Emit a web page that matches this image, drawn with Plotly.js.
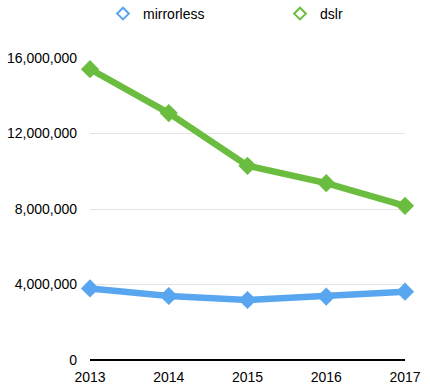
<!DOCTYPE html>
<html>
<head>
<meta charset="utf-8">
<script src="https://cdn.plot.ly/plotly-3.0.1.min.js"></script>
<style>html,body{margin:0;padding:0;background:#fff;}#chart{width:430px;height:391px;}</style>
</head>
<body>
<div id="chart"></div>
<script>
const years = [2013, 2014, 2015, 2016, 2017];
const mirrorless = [3790000, 3390000, 3180000, 3360000, 3620000];
const dslr = [15410000, 13080000, 10290000, 9370000, 8170000];
const yTicks = [0, 4000000, 8000000, 12000000, 16000000];
const yTickText = ["0", "4,000,000", "8,000,000", "12,000,000", "16,000,000"];

const blue = "#58a6ef";
const green = "#6abd3e";

const traces = [
  {x: years, y: mirrorless, mode: "lines+markers", name: "mirrorless", showlegend: false,
   line: {color: blue, width: 6.5}, marker: {symbol: "diamond", size: 14, color: blue}, cliponaxis: false},
  {x: years, y: dslr, mode: "lines+markers", name: "dslr", showlegend: false,
   line: {color: green, width: 6.5}, marker: {symbol: "diamond", size: 14, color: green}, cliponaxis: false},
  {x: [null], y: [null], mode: "markers", name: "mirrorless", legend: "legend",
   marker: {symbol: "diamond-open", size: 9, color: blue, line: {width: 2, color: blue}}},
  {x: [null], y: [null], mode: "markers", name: "dslr", legend: "legend2",
   marker: {symbol: "diamond-open", size: 9, color: green, line: {width: 2, color: green}}}
];

const legendBase = {orientation: "h", xref: "container", yref: "container",
  xanchor: "left", yanchor: "middle", y: 1 - 14 / 391,
  font: {size: 14, color: "#000"}, bgcolor: "rgba(0,0,0,0)", borderwidth: 0};

const layout = {
  width: 430, height: 391,
  margin: {l: 90, r: 25, t: 58, b: 31, autoexpand: false},
  paper_bgcolor: "#fff", plot_bgcolor: "#fff",
  font: {family: "Liberation Sans, Arial, sans-serif", size: 14, color: "#000"},
  showlegend: true,
  legend: Object.assign({}, legendBase, {x: 103 / 430}),
  legend2: Object.assign({}, legendBase, {x: 280 / 430}),
  xaxis: {range: [2013, 2017], tickvals: years, ticktext: years.map(String),
          showgrid: false, zeroline: false, showline: false, ticks: "",
          tickfont: {size: 14}, ticklabelstandoff: 7},
  yaxis: {range: [0, 16000000], tickvals: yTicks, ticktext: yTickText,
          showgrid: true, gridcolor: "#e3e3e3", gridwidth: 1, zeroline: true,
          zerolinecolor: "#000", zerolinewidth: 2, showline: false, ticks: "",
          tickfont: {size: 14}, ticklabelstandoff: 12}
};

Plotly.newPlot("chart", traces, layout, {displayModeBar: false, staticPlot: true});
</script>
</body>
</html>
